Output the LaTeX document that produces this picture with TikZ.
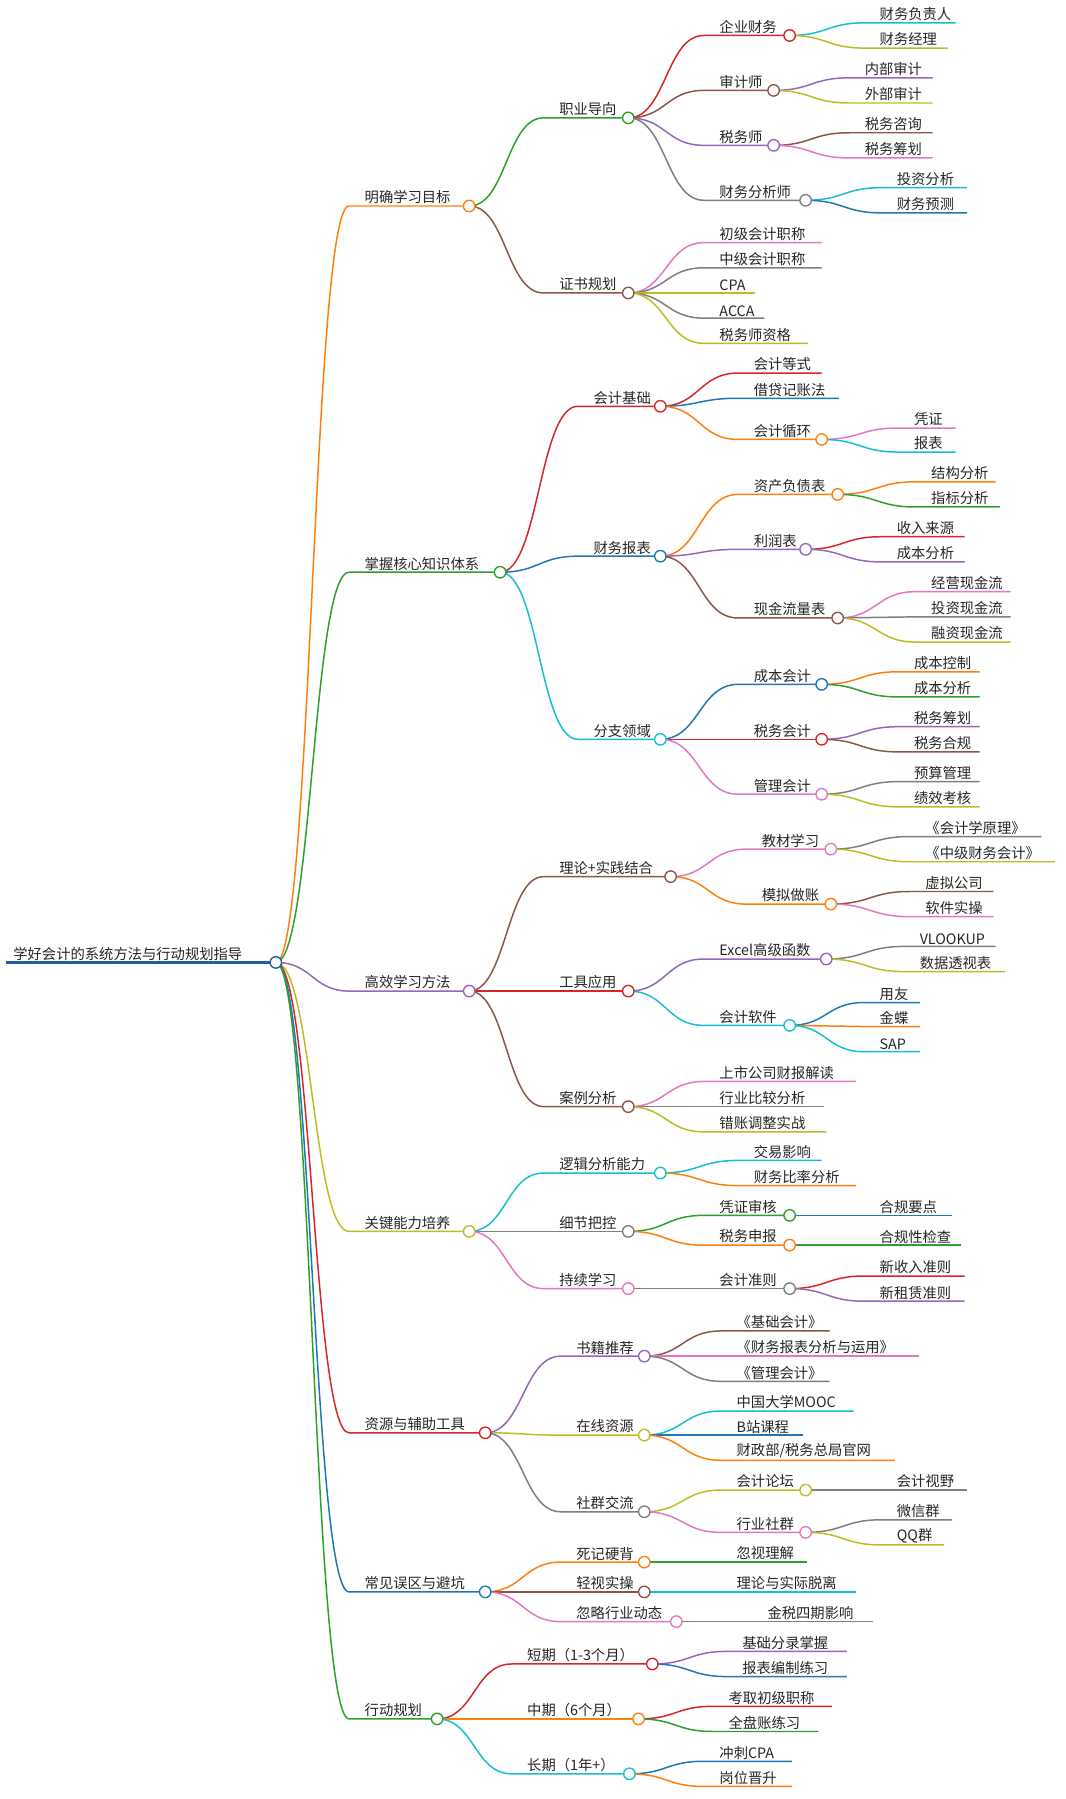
\documentclass[tikz,border=0pt]{standalone}
\usepackage{fontspec}
\setmainfont{Noto Sans CJK SC}
\usetikzlibrary{positioning}
\definecolor{cblue}{HTML}{1F77B4}
\definecolor{corange}{HTML}{FF7F0E}
\definecolor{cgreen}{HTML}{2CA02C}
\definecolor{cred}{HTML}{D62728}
\definecolor{cpurple}{HTML}{9467BD}
\definecolor{cbrown}{HTML}{8C564B}
\definecolor{cpink}{HTML}{E377C2}
\definecolor{cgray}{HTML}{7F7F7F}
\definecolor{colive}{HTML}{BCBD22}
\definecolor{ccyan}{HTML}{17BECF}
\definecolor{rootblue}{HTML}{1F5F9F}
\tikzset{lbl/.style={inner sep=1.5pt,font=\fontsize{12.5}{14}\selectfont,text=black!85}}
% px py sx y ex colour text
\newcommand\br[7]{%
 \draw[#6,line width=1.3pt] (#1,#2) .. controls ({(#1+#3)/2},#2) and ({(#1+#3)/2},#4) .. (#3,#4) -- (#5,#4);
 \node[lbl,anchor=south west] at (#3+12,#4) {#7};}
\begin{document}
\begin{tikzpicture}[x=1pt,y=-1pt]
\useasboundingbox[fill=white] (0,0) rectangle (931,1572);
% root
\draw[rootblue,line width=3pt] (5,841) -- (241,841);
\node[lbl,anchor=south west] (root) at (10,841) {学好会计的系统方法与行动规划指导};
% level 1
\br{241}{841}{305}{180}{410}{corange}{明确学习目标}
\br{241}{841}{305}{500}{437}{cgreen}{掌握核心知识体系}
\br{241}{841}{305}{866}{410}{cpurple}{高效学习方法}
\br{241}{841}{305}{1076}{410}{colive}{关键能力培养}
\br{241}{841}{305}{1252}{424}{cred}{资源与辅助工具}
\br{241}{841}{305}{1391}{424}{cblue}{常见误区与避坑}
\br{241}{841}{305}{1502}{382}{cgreen}{行动规划}
% 明确学习目标
\br{410}{180}{475}{103}{549}{cgreen}{职业导向}
\br{410}{180}{475}{256}{549}{cbrown}{证书规划}
\br{549}{103}{615}{31}{690}{cred}{企业财务}
\br{549}{103}{615}{79}{676}{cbrown}{审计师}
\br{549}{103}{615}{127}{676}{cpurple}{税务师}
\br{549}{103}{615}{175}{704}{cgray}{财务分析师}
\br{690}{31}{755}{20}{835}{ccyan}{财务负责人}
\br{690}{31}{755}{42}{828}{colive}{财务经理}
\br{676}{79}{742}{68}{815}{cpurple}{内部审计}
\br{676}{79}{742}{90}{815}{colive}{外部审计}
\br{676}{127}{742}{116}{815}{cbrown}{税务咨询}
\br{676}{127}{742}{138}{815}{cpink}{税务筹划}
\br{704}{175}{770}{164}{845}{ccyan}{投资分析}
\br{704}{175}{770}{186}{845}{cblue}{财务预测}
\br{549}{256}{615}{212}{718}{cpink}{初级会计职称}
\br{549}{256}{615}{234}{718}{cgray}{中级会计职称}
\br{549}{256}{615}{256}{660}{colive}{CPA}
\br{549}{256}{615}{278}{668}{cgray}{ACCA}
\br{549}{256}{615}{300}{706}{colive}{税务师资格}
% 掌握核心知识体系
\br{437}{500}{505}{355}{577}{cred}{会计基础}
\br{437}{500}{505}{486}{577}{cblue}{财务报表}
\br{437}{500}{505}{646}{577}{ccyan}{分支领域}
\br{577}{355}{645}{326}{718}{cred}{会计等式}
\br{577}{355}{645}{348}{733}{cblue}{借贷记账法}
\br{577}{355}{645}{384}{718}{corange}{会计循环}
\br{718}{384}{785}{374}{835}{cpink}{凭证}
\br{718}{384}{785}{395}{835}{ccyan}{报表}
\br{577}{486}{645}{432}{732}{corange}{资产负债表}
\br{577}{486}{645}{480}{704}{cpurple}{利润表}
\br{577}{486}{645}{540}{732}{cbrown}{现金流量表}
\br{732}{432}{800}{421}{870}{corange}{结构分析}
\br{732}{432}{800}{443}{874}{cgreen}{指标分析}
\br{704}{480}{770}{469}{843}{cred}{收入来源}
\br{704}{480}{770}{491}{843}{cpurple}{成本分析}
\br{732}{540}{800}{517}{883}{cpink}{经营现金流}
\br{732}{540}{800}{539}{883}{cgray}{投资现金流}
\br{732}{540}{800}{561}{883}{colive}{融资现金流}
\br{577}{646}{645}{598}{718}{cblue}{成本会计}
\br{577}{646}{645}{646}{718}{cred}{税务会计}
\br{577}{646}{645}{694}{718}{cpink}{管理会计}
\br{718}{598}{785}{587}{856}{corange}{成本控制}
\br{718}{598}{785}{609}{856}{cgreen}{成本分析}
\br{718}{646}{785}{635}{856}{cpurple}{税务筹划}
\br{718}{646}{785}{657}{856}{cbrown}{税务合规}
\br{718}{694}{785}{683}{856}{cgray}{预算管理}
\br{718}{694}{785}{705}{856}{colive}{绩效考核}
% 高效学习方法
\br{410}{866}{475}{766}{586}{cbrown}{理论+实践结合}
\br{410}{866}{475}{866}{549}{cred}{工具应用}
\br{410}{866}{475}{967}{549}{cbrown}{案例分析}
\br{586}{766}{652}{742}{726}{cpink}{教材学习}
\br{586}{766}{652}{790}{726}{corange}{模拟做账}
\br{726}{742}{795}{731}{910}{cgray}{《会计学原理》}
\br{726}{742}{795}{753}{922}{colive}{《中级财务会计》}
\br{726}{790}{795}{779}{868}{cbrown}{虚拟公司}
\br{726}{790}{795}{801}{868}{cpink}{软件实操}
\br{549}{866}{615}{838}{722}{cpurple}{Excel高级函数}
\br{549}{866}{615}{896}{690}{ccyan}{会计软件}
\br{722}{838}{790}{827}{870}{cgray}{VLOOKUP}
\br{722}{838}{790}{849}{878}{colive}{数据透视表}
\br{690}{896}{755}{876}{804}{cblue}{用友}
\br{690}{896}{755}{897}{804}{corange}{金蝶}
\br{690}{896}{755}{919}{804}{ccyan}{SAP}
\br{549}{967}{615}{945}{748}{cpink}{上市公司财报解读}
\br{549}{967}{615}{967}{720}{cgray}{行业比较分析}
\br{549}{967}{615}{989}{722}{colive}{错账调整实战}
% 关键能力培养
\br{410}{1076}{475}{1025}{577}{ccyan}{逻辑分析能力}
\br{410}{1076}{475}{1076}{549}{cgray}{细节把控}
\br{410}{1076}{475}{1126}{549}{cpink}{持续学习}
\br{577}{1025}{645}{1014}{718}{ccyan}{交易影响}
\br{577}{1025}{645}{1036}{748}{corange}{财务比率分析}
\br{549}{1076}{615}{1062}{690}{cgreen}{凭证审核}
\br{549}{1076}{615}{1088}{690}{corange}{税务申报}
\br{690}{1062}{755}{1062}{832}{cblue}{合规要点}
\br{690}{1088}{755}{1088}{840}{cgreen}{合规性检查}
\br{549}{1126}{615}{1126}{690}{cgray}{会计准则}
\br{690}{1126}{755}{1115}{843}{cred}{新收入准则}
\br{690}{1126}{755}{1137}{843}{cpurple}{新租赁准则}
% 资源与辅助工具
\br{424}{1252}{490}{1185}{563}{cpurple}{书籍推荐}
\br{424}{1252}{490}{1254}{563}{colive}{在线资源}
\br{424}{1252}{490}{1321}{563}{cgray}{社群交流}
\br{563}{1185}{630}{1163}{725}{cbrown}{《基础会计》}
\br{563}{1185}{630}{1185}{803}{cpink}{《财务报表分析与运用》}
\br{563}{1185}{630}{1207}{725}{cgray}{《管理会计》}
\br{563}{1254}{630}{1233}{746}{ccyan}{中国大学MOOC}
\br{563}{1254}{630}{1254}{702}{cblue}{B站课程}
\br{563}{1254}{630}{1276}{782}{corange}{财政部/税务总局官网}
\br{563}{1321}{630}{1302}{704}{colive}{会计论坛}
\br{563}{1321}{630}{1339}{704}{cpink}{行业社群}
\br{704}{1302}{770}{1302}{845}{cgray}{会计视野}
\br{704}{1339}{770}{1328}{832}{cgray}{微信群}
\br{704}{1339}{770}{1350}{825}{colive}{QQ群}
% 常见误区与避坑
\br{424}{1391}{490}{1365}{563}{corange}{死记硬背}
\br{424}{1391}{490}{1391}{563}{cbrown}{轻视实操}
\br{424}{1391}{490}{1417}{591}{cpink}{忽略行业动态}
\br{563}{1365}{630}{1365}{705}{cgreen}{忽视理解}
\br{563}{1391}{630}{1391}{748}{ccyan}{理论与实际脱离}
\br{591}{1417}{657}{1417}{763}{cgray}{金税四期影响}
% 行动规划
\br{382}{1502}{447}{1454}{570}{cred}{短期（1-3个月）}
\br{382}{1502}{447}{1502}{558}{corange}{中期（6个月）}
\br{382}{1502}{447}{1550}{550}{ccyan}{长期（1年+）}
\br{570}{1454}{635}{1443}{740}{cpurple}{基础分录掌握}
\br{570}{1454}{635}{1465}{740}{cblue}{报表编制练习}
\br{558}{1502}{623}{1491}{727}{cred}{考取初级职称}
\br{558}{1502}{623}{1513}{715}{cgreen}{全盘账练习}
\br{550}{1550}{615}{1539}{692}{cblue}{冲刺CPA}
\br{550}{1550}{615}{1561}{692}{corange}{岗位晋升}
% junction dots
\foreach \x/\y/\c in {241/841/rootblue,410/180/corange,437/500/cgreen,410/866/cpurple,
  410/1076/colive,424/1252/cred,424/1391/cblue,382/1502/cgreen,
  549/103/cgreen,549/256/cbrown,690/31/cred,676/79/cbrown,676/127/cpurple,704/175/cgray,
  577/355/cred,577/486/cblue,577/646/ccyan,718/384/corange,732/432/corange,704/480/cpurple,
  732/540/cbrown,718/598/cblue,718/646/cred,718/694/cpink,
  586/766/cbrown,549/866/cred,549/967/cbrown,726/742/cpink,726/790/corange,722/838/cpurple,
  690/896/ccyan,577/1025/ccyan,549/1076/cgray,549/1126/cpink,690/1062/cgreen,690/1088/corange,
  690/1126/cgray,563/1185/cpurple,563/1254/colive,563/1321/cgray,704/1302/colive,704/1339/cpink,
  563/1365/corange,563/1391/cbrown,591/1417/cpink,570/1454/cred,558/1502/corange,550/1550/ccyan}
  \draw[\c,fill=white,line width=1.2pt] (\x,\y) circle (5);
\end{tikzpicture}
\end{document}
